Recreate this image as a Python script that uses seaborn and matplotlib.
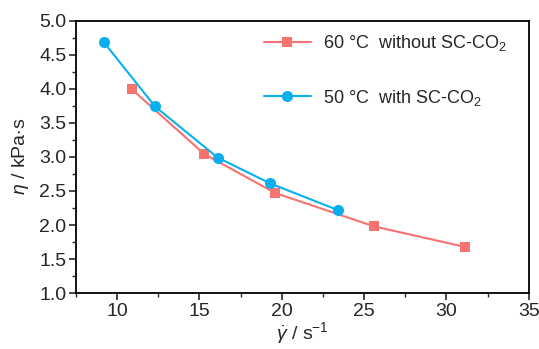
import pandas as pd
import matplotlib.pyplot as plt
import seaborn as sns
from matplotlib.ticker import MultipleLocator

# shear rate (1/s) and viscosity (kPa.s)
rate_60 = [10.9, 15.3, 19.6, 25.6, 31.1]
eta_60 = [3.99, 3.04, 2.47, 1.98, 1.68]
rate_50 = [9.2, 12.3, 16.1, 19.3, 23.4]
eta_50 = [4.68, 3.74, 2.99, 2.61, 2.22]
labels = ['60 \u00b0C  without SC-CO$_2$', '50 \u00b0C  with SC-CO$_2$']


def main():
    sns.set_style('ticks')
    plt.rcParams['font.family'] = ['Liberation Sans', 'DejaVu Sans']
    plt.rcParams['mathtext.fontset'] = 'custom'
    plt.rcParams['mathtext.rm'] = 'Liberation Sans'
    plt.rcParams['mathtext.it'] = 'Liberation Sans:italic'

    df60 = pd.DataFrame({'rate': rate_60, 'eta': eta_60})
    df50 = pd.DataFrame({'rate': rate_50, 'eta': eta_50})

    fig = plt.figure(figsize=(5.39, 3.49), dpi=100)
    ax = fig.add_axes([0.141, 0.160, 0.840, 0.781])
    colors = ['#f7736f', '#0aaff0']
    sns.lineplot(data=df60, x='rate', y='eta', color=colors[0], marker='s', markersize=7,
                 markeredgewidth=0, linewidth=1.5, label=labels[0], ax=ax)
    sns.lineplot(data=df50, x='rate', y='eta', color=colors[1], marker='o', markersize=8,
                 markeredgewidth=0, linewidth=1.5, label=labels[1], ax=ax)

    ax.set(xlim=(7.5, 35), ylim=(1.0, 5.0))
    ax.xaxis.set_major_locator(MultipleLocator(5))
    ax.xaxis.set_minor_locator(MultipleLocator(2.5))
    ax.yaxis.set_major_locator(MultipleLocator(0.5))
    ax.yaxis.set_minor_locator(MultipleLocator(0.25))
    ax.tick_params(which='major', direction='out', length=5, width=1.2, labelsize=14, pad=2)
    ax.tick_params(which='minor', direction='out', length=3, width=1.0)
    for s in ax.spines.values():
        s.set_linewidth(1.3)
        s.set_color('black')
    ax.set_xlabel(r'$\dot{\gamma}$ / s$^{-1}$', fontsize=14, labelpad=0)
    ax.set_ylabel(r'$\eta$ / kPa$\cdot$s', fontsize=14, labelpad=6)

    ax.legend(loc='upper right', frameon=False, fontsize=13, labelspacing=1.9,
              handlelength=2.6, handletextpad=0.7, borderaxespad=0.3,
              bbox_to_anchor=(0.98, 1.0))

    fig.savefig('out.png', dpi=100)


if __name__ == '__main__':
    main()
